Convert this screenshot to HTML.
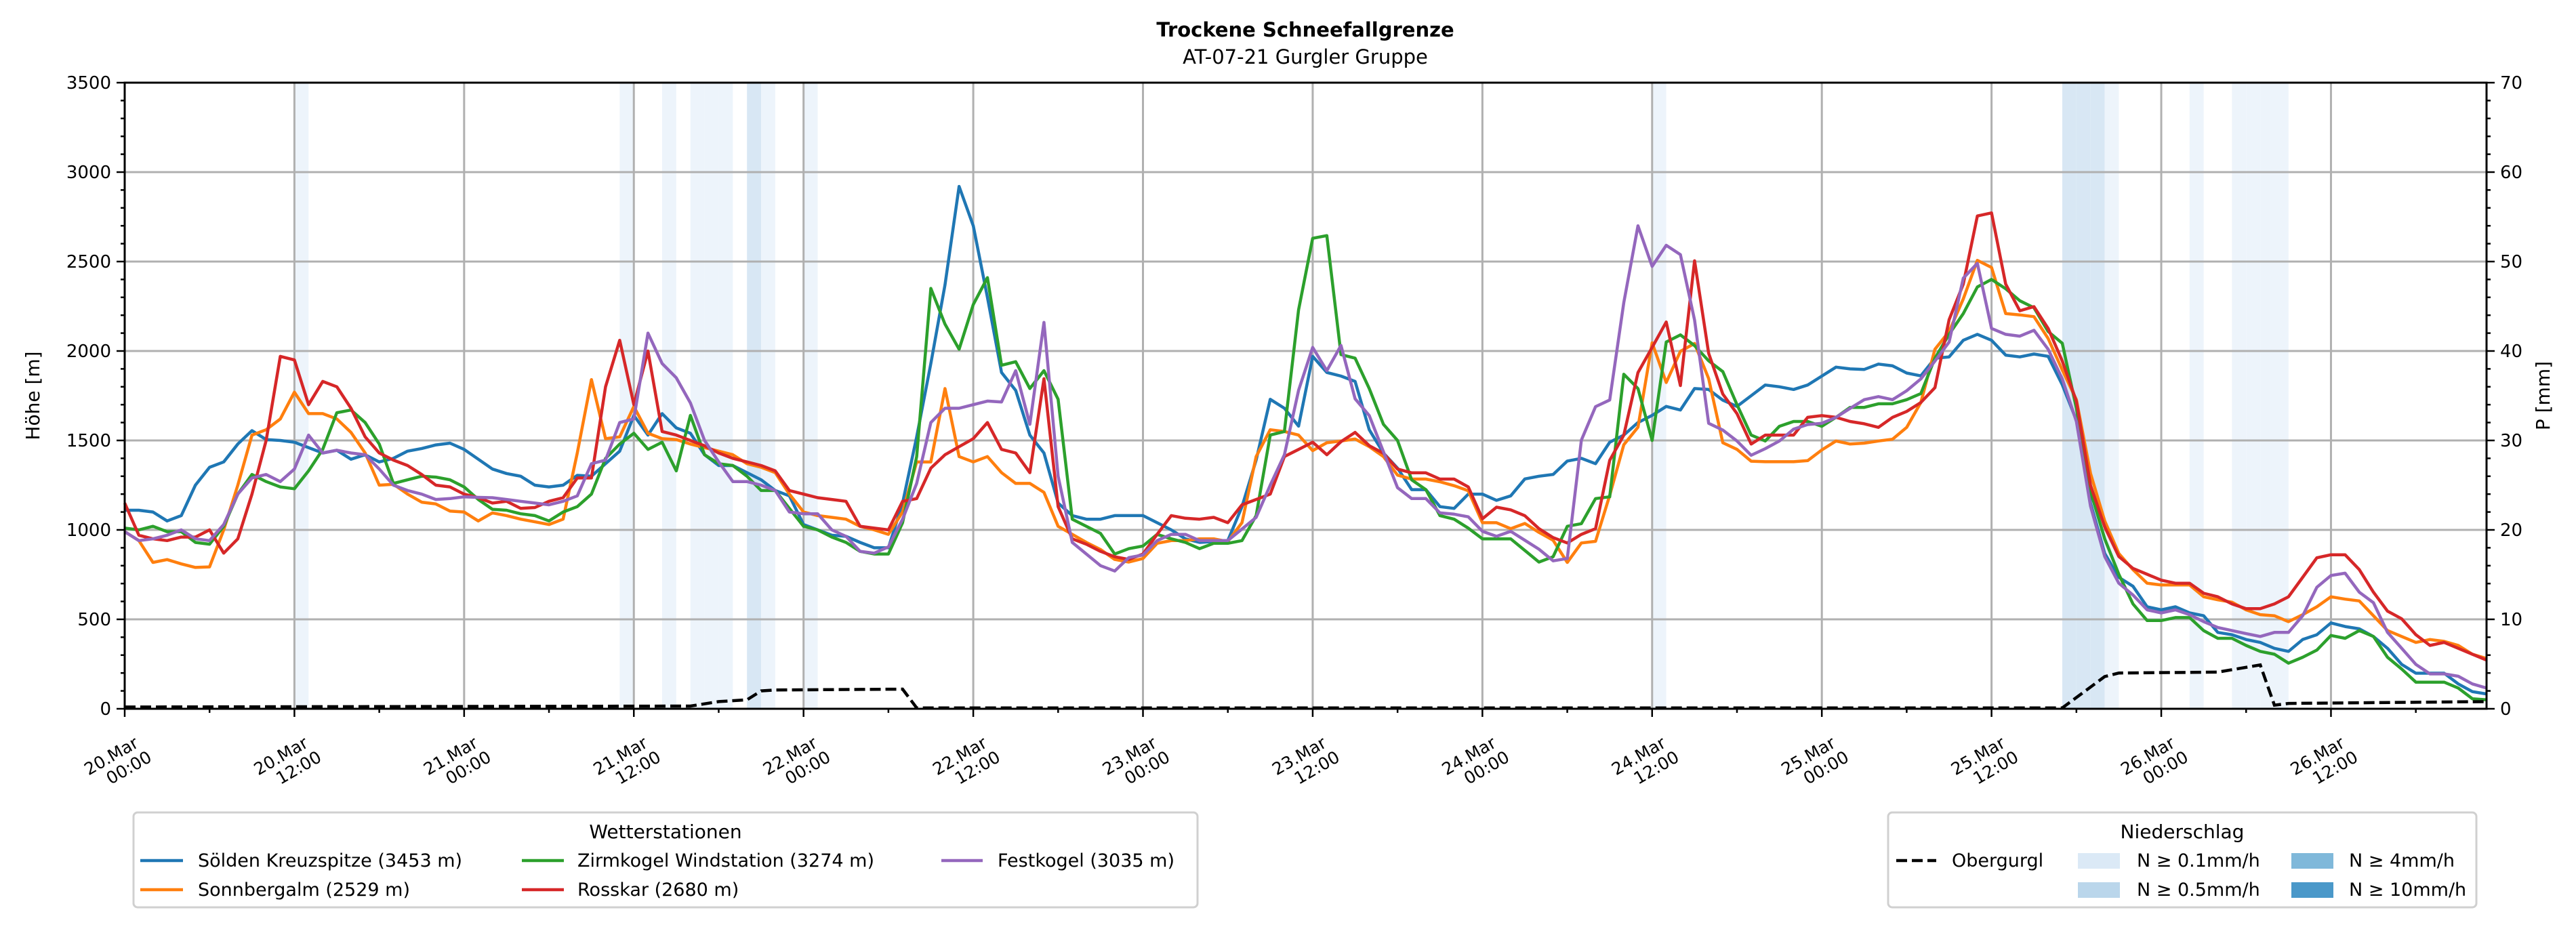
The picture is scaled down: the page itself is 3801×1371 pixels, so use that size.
<!DOCTYPE html>
<html><head><meta charset="utf-8"><title>Trockene Schneefallgrenze</title>
<style>
html,body{margin:0;padding:0;background:#fff;}
svg{display:block;font-family:"DejaVu Sans","Liberation Sans",sans-serif;}
</style></head>
<body>
<svg id="chart" width="3801" height="1371" viewBox="0 0 3801 1371" xmlns="http://www.w3.org/2000/svg">
<rect x="0" y="0" width="3801" height="1371" fill="#fff"/>
<text x="1926" y="54" text-anchor="middle" font-size="29" font-weight="bold">Trockene Schneefallgrenze</text>
<text x="1926" y="94" text-anchor="middle" font-size="29">AT-07-21 Gurgler Gruppe</text>
<g id="bands"></g>
<g id="grid"></g>
<g id="series"></g>
<g id="axes"></g>
<text transform="translate(58,584) rotate(-90)" text-anchor="middle" font-size="28">Höhe [m]</text>
<text transform="translate(3762,584) rotate(-90)" text-anchor="middle" font-size="28">P [mm]</text>

<g>
<rect x="197" y="1199" width="1570" height="140" rx="6" fill="#fff" stroke="#d0d0d0" stroke-width="3"/>
<text x="982" y="1237" text-anchor="middle" font-size="28">Wetterstationen</text>
<g><line x1="207" y1="1270" x2="270" y2="1270" stroke="#1f77b4" stroke-width="4.5"/><text x="292" y="1279" font-size="27">Sölden Kreuzspitze (3453 m)</text></g>
<g><line x1="207" y1="1313" x2="270" y2="1313" stroke="#ff7f0e" stroke-width="4.5"/><text x="292" y="1322" font-size="27">Sonnbergalm (2529 m)</text></g>
<g><line x1="770" y1="1270" x2="832" y2="1270" stroke="#2ca02c" stroke-width="4.5"/><text x="852" y="1279" font-size="27">Zirmkogel Windstation (3274 m)</text></g>
<g><line x1="770" y1="1313" x2="832" y2="1313" stroke="#d62728" stroke-width="4.5"/><text x="852" y="1322" font-size="27">Rosskar (2680 m)</text></g>
<g><line x1="1389" y1="1270" x2="1450" y2="1270" stroke="#9467bd" stroke-width="4.5"/><text x="1472" y="1279" font-size="27">Festkogel (3035 m)</text></g>
</g>

<g>
<rect x="2786" y="1199" width="868" height="140" rx="6" fill="#fff" stroke="#d0d0d0" stroke-width="3"/>
<text x="3220" y="1237" text-anchor="middle" font-size="28">Niederschlag</text>
<g><line x1="2798" y1="1270" x2="2857" y2="1270" stroke="#000" stroke-width="4.5" stroke-dasharray="16,7"/><text x="2880" y="1279" font-size="27">Obergurgl</text></g>
<g><rect x="3066" y="1259" width="62" height="23" fill="#dbe9f6"/><text x="3153" y="1279" font-size="27">N ≥ 0.1mm/h</text></g>
<g><rect x="3066" y="1302" width="62" height="23" fill="#bad6eb"/><text x="3153" y="1322" font-size="27">N ≥ 0.5mm/h</text></g>
<g><rect x="3381" y="1259" width="62" height="23" fill="#7fb8da"/><text x="3466" y="1279" font-size="27">N ≥ 4mm/h</text></g>
<g><rect x="3381" y="1302" width="62" height="23" fill="#4a98c9"/><text x="3466" y="1322" font-size="27">N ≥ 10mm/h</text></g>
</g>
</svg>
<script>
var soelden = [1110,1110,1100,1050,1080,1250,1350,1380,1480,1555,1505,1500,1490,1460,1430,1445,1395,1420,1380,1400,1440,1455,1475,1485,1450,1395,1340,1315,1300,1250,1240,1250,1305,1300,1370,1440,1640,1530,1650,1570,1540,1420,1360,1360,1320,1280,1220,1190,1030,1000,970,
964,930,900,900,1150,1520,1930,2370,2920,2700,2300,1880,1780,1530,1430,1150,1080,1060,1060,1080,1080,1080,1040,1000,950,930,935,940,1130,1390,1730,1680,1580,
1970,1880,1860,1830,1560,1430,1345,1225,1225,1130,1120,1200,1200,1165,1190,1285,1300,1310,1385,1400,1370,1490,1530,1600,1640,1690,1670,1790,1785,1725,1690,1750,
1810,1800,1785,1810,1860,1910,1900,1897,1927,1917,1877,1861,1960,1967,2060,2093,2060,1977,1967,1983,1970,1811,1613,1149,868,735,685,570,553,570,536,520,427,414,387,371,338,321,387,414,480,460,447,404,338,248,199,199,199,139,96,83];
var sonnbergalm = [990,940,818,834,810,790,793,1000,1250,1530,1560,1620,1770,1650,1650,1620,1545,1430,1250,1255,1200,1155,1145,1105,1100,1050,1095,1080,1060,1045,1030,1060,1430,1840,1510,1520,1690,1540,1510,1505,1480,1460,1440,1420,1370,1350,1320,1200,1100,1080,1070,
1060,1020,1000,975,1100,1380,1380,1790,1410,1380,1410,1320,1260,1260,1210,1020,975,930,890,835,820,840,925,940,940,950,950,935,1040,1410,1560,1550,1530,
1443,1487,1497,1508,1465,1410,1306,1284,1284,1269,1247,1219,1040,1040,1007,1036,986,942,818,927,936,1193,1476,1574,2046,1824,1998,2042,1846,1487,1450,1384,
1381,1381,1381,1387,1447,1497,1480,1485,1497,1507,1573,1712,2010,2109,2291,2507,2467,2209,2202,2192,2070,1894,1728,1315,1050,868,778,702,692,692,692,626,609,596,553,526,520,487,526,570,626,613,603,520,437,404,371,387,377,354,305,281];
var zirmkogel = [1010,1000,1020,990,990,930,920,1020,1200,1310,1270,1240,1230,1330,1450,1655,1670,1600,1480,1260,1280,1300,1295,1280,1240,1170,1115,1110,1090,1080,1050,1100,1130,1200,1400,1480,1540,1450,1490,1330,1640,1420,1370,1360,1300,1220,1220,1120,1020,1000,960,
930,880,865,865,1040,1410,2350,2150,2010,2260,2410,1920,1940,1790,1890,1730,1060,1020,980,865,895,910,975,950,930,895,925,925,940,1080,1530,1550,2230,
2630,2645,1980,1960,1790,1590,1500,1280,1225,1080,1060,1010,950,950,950,885,820,850,1020,1035,1175,1185,1870,1790,1500,2050,2090,2030,1945,1885,1700,1530,
1497,1579,1606,1606,1579,1629,1685,1685,1705,1705,1728,1762,1960,2093,2209,2358,2400,2348,2281,2242,2109,2043,1679,1215,950,752,586,493,493,510,510,437,394,394,354,321,305,255,288,328,410,394,437,404,288,222,149,149,149,116,56,50];
var rosskar = [1150,970,950,940,960,960,1000,870,950,1200,1500,1970,1950,1700,1830,1800,1680,1520,1430,1390,1360,1310,1250,1240,1200,1180,1150,1160,1120,1125,1160,1180,1290,1290,1800,2060,1700,2000,1550,1530,1500,1470,1430,1400,1380,1360,1330,1220,1200,1180,1170,
1160,1020,1010,1000,1160,1175,1345,1420,1465,1510,1600,1450,1430,1320,1845,1130,950,920,880,850,835,865,975,1080,1065,1060,1070,1040,1140,1170,1200,1410,1450,
1490,1420,1493,1545,1471,1428,1340,1319,1319,1284,1284,1240,1062,1127,1112,1079,1007,957,927,975,1007,1389,1530,1879,2020,2162,1807,2504,1987,1759,1650,1480,
1530,1530,1530,1629,1639,1629,1606,1593,1573,1629,1662,1712,1795,2175,2374,2755,2772,2374,2225,2248,2126,1944,1719,1248,1017,851,785,752,719,702,702,646,626,586,560,560,586,626,735,844,861,861,778,652,546,503,414,354,371,338,305,272];
var festkogel = [990,940,950,970,1000,950,940,1030,1200,1290,1310,1270,1340,1530,1430,1445,1430,1420,1340,1250,1220,1200,1170,1175,1185,1182,1180,1170,1160,1150,1140,1160,1190,1370,1390,1600,1620,2100,1930,1850,1710,1500,1380,1270,1270,1250,1220,1100,1090,1090,1000,
964,880,870,905,1060,1260,1600,1680,1680,1700,1720,1715,1890,1590,2160,1300,930,865,800,770,845,860,940,975,975,940,940,940,1005,1070,1250,1420,1780,
2020,1890,2031,1733,1639,1437,1236,1175,1175,1095,1088,1073,992,964,992,942,892,827,840,1502,1689,1726,2271,2700,2473,2591,2539,2173,1596,1558,1497,1417,
1454,1497,1563,1589,1596,1629,1679,1728,1745,1728,1778,1844,1944,2050,2407,2490,2126,2093,2083,2116,2010,1844,1606,1132,851,702,636,553,536,553,526,487,454,437,420,404,427,427,520,679,745,758,652,593,427,338,248,195,195,182,139,116];
var obergurglHours = [0,40,42,44,45,46,55,56,136,137,140,141,148,151,152,153,167];
var obergurglMm = [0.2,0.3,0.8,1.0,2.0,2.1,2.2,0.1,0.1,0.1,3.6,4.0,4.1,4.9,0.4,0.6,0.8];
var bandHours = [12,35,38,40,41,42,44,45,48,108,137,138,139,140,146,149,150,151,152];
var bandClass = [0,0,0,0,0,0,1,0,0,0,1,1,1,0,0,0,0,0,0];
var yTicks = [0,500,1000,1500,2000,2500,3000,3500];
var y2Ticks = [0,10,20,30,40,50,60,70];
var xTickDays = ["20.Mar","20.Mar","21.Mar","21.Mar","22.Mar","22.Mar","23.Mar","23.Mar","24.Mar","24.Mar","25.Mar","25.Mar","26.Mar","26.Mar"];
var xTickTimes = ["00:00","12:00","00:00","12:00","00:00","12:00","00:00","12:00","00:00","12:00","00:00","12:00","00:00","12:00"];

var NS='http://www.w3.org/2000/svg';
var L=184,R=3669,T=122,B=1046,HMAX=167;
function xs(h){return L+(R-L)*h/HMAX;}
function yl(v){return B-(B-T)*v/3500;}
function yr(p){return B-(B-T)*p/70;}
function mk(tag,attrs,parent){var e=document.createElementNS(NS,tag);for(var k in attrs)e.setAttribute(k,attrs[k]);parent.appendChild(e);return e;}
var gB=document.getElementById('bands'),gG=document.getElementById('grid'),gS=document.getElementById('series'),gA=document.getElementById('axes');
var bandFill=['#edf4fb','#d8e7f4'];
bandHours.forEach(function(h,i){
  var r=mk('rect',{x:xs(h),y:T,width:xs(h+1)-xs(h),height:B-T,fill:bandFill[bandClass[i]]},gB);
  
  
});
yTicks.forEach(function(v){
  var l=mk('line',{x1:L,x2:R,y1:yl(v),y2:yl(v),stroke:'#b0b0b0','stroke-width':3},gG);
  
  
});
xTickDays.forEach(function(d,i){
  var x=xs(i*12);
  var l=mk('line',{x1:x,x2:x,y1:T,y2:B,stroke:'#b0b0b0','stroke-width':3},gG);
  
  
});
var series=[[soelden,'#1f77b4','line-soelden'],[sonnbergalm,'#ff7f0e','line-sonnbergalm'],[zirmkogel,'#2ca02c','line-zirmkogel'],[rosskar,'#d62728','line-rosskar'],[festkogel,'#9467bd','line-festkogel']];
series.forEach(function(s){
  var pts=s[0].map(function(v,h){return xs(h).toFixed(1)+','+yl(v).toFixed(1);}).join(' ');
  var p=mk('polyline',{points:pts,fill:'none',stroke:s[1],'stroke-width':4.5,'stroke-linejoin':'round'},gS);
  
  
});
var op=obergurglHours.map(function(h,i){return xs(h).toFixed(1)+','+yr(obergurglMm[i]).toFixed(1);}).join(' ');
var ob=mk('polyline',{points:op,fill:'none',stroke:'#000','stroke-width':4.5,'stroke-dasharray':'16,7'},gS);


var fr=mk('rect',{x:L,y:T,width:R-L,height:B-T,fill:'none',stroke:'#000','stroke-width':3},gA);


for(var v=0;v<=3500;v+=100){
  var major=(v%500===0);
  var t=mk('line',{x1:L,x2:L-(major?12:6),y1:yl(v),y2:yl(v),stroke:'#000','stroke-width':2.5},gA);
  
  
}
for(var p=0;p<=70;p+=2){
  var major2=(p%10===0);
  var t2=mk('line',{x1:R,x2:R+(major2?12:6),y1:yr(p),y2:yr(p),stroke:'#000','stroke-width':2.5},gA);
  
  
}
yTicks.forEach(function(v){
  var tx=mk('text',{x:L-20,y:yl(v)+9,'text-anchor':'end','font-size':26},gA);
  tx.textContent=v;
  
  
});
y2Ticks.forEach(function(p){
  var tx=mk('text',{x:R+20,y:yr(p)+9,'text-anchor':'start','font-size':26},gA);
  tx.textContent=p;
  
  
});
for(var h=0;h<=HMAX;h+=6){
  var mj=(h%12===0);
  var xt=mk('line',{x1:xs(h),x2:xs(h),y1:B,y2:B+(mj?12:6),stroke:'#000','stroke-width':2.5},gA);
  
  
}
xTickDays.forEach(function(d,i){
  var x=xs(i*12);
  var g=mk('text',{transform:'translate('+(x+8)+',1084) rotate(-30)','text-anchor':'middle','font-size':25},gA);
  
  
  var t1=mk('tspan',{x:-40,y:22},g); t1.textContent=d;
  var t2b=mk('tspan',{x:-26,y:50},g); t2b.textContent=xTickTimes[i];
});
</script>
</body></html>
